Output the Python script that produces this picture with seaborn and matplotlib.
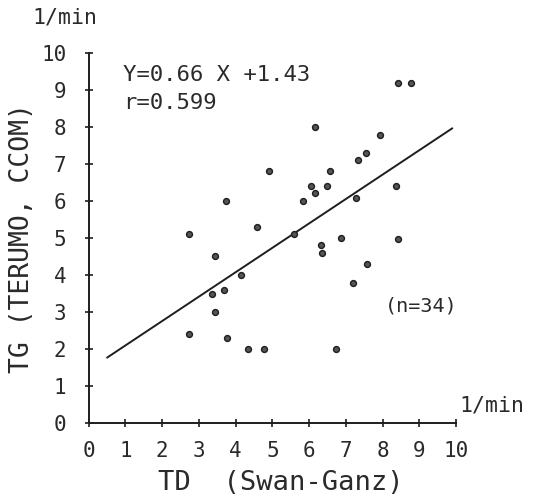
import numpy as np
import pandas as pd
import seaborn as sns
import matplotlib.pyplot as plt

# datos (TD vs TG, n=34)
td = [4.92, 3.74, 4.58, 2.73, 3.44,
      8.41, 8.78, 6.15, 7.94, 7.56, 7.34, 6.57, 6.06, 6.50, 8.38, 6.17, 5.84,
      7.28, 5.60, 6.86, 8.41, 6.33, 6.35,
      7.59, 7.19, 6.74,
      4.15, 3.35, 3.69, 3.43, 2.72, 3.76, 4.33, 4.78]
tg = [6.80, 6.01, 5.30, 5.11, 4.50,
      9.20, 9.20, 8.00, 7.79, 7.30, 7.10, 6.80, 6.40, 6.40, 6.39, 6.20, 6.00,
      6.09, 5.11, 4.99, 4.98, 4.80, 4.59,
      4.28, 3.78, 1.99,
      3.99, 3.49, 3.60, 3.00, 2.40, 2.30, 2.00, 2.00]

pendiente = 0.66
intercepto = 1.43
x_linea = [0.5, 9.9]
ticks = list(range(0, 11))

df = pd.DataFrame({"TD": td, "TG": tg})
df_linea = pd.DataFrame({"x": x_linea})
df_linea["y"] = pendiente * df_linea["x"] + intercepto

sns.set_style("white")
plt.rcParams['font.family'] = ['DejaVu Sans Mono', 'DejaVu Sans']
tinta = "#1e1e1e"
texto = "#2a2a2a"

fig = plt.figure(figsize=(5.39, 4.96), dpi=100)
ax = fig.add_axes([0.1646, 0.1478, 0.6814, 0.7453])

sns.lineplot(data=df_linea, x="x", y="y", ax=ax, color=tinta, linewidth=1.4)
sns.scatterplot(data=df, x="TD", y="TG", ax=ax, s=18, color="#555555",
                edgecolor=tinta, linewidth=1.0, clip_on=False, zorder=3)

ax.set_xlim(0, 10)
ax.set_ylim(0, 10)
ax.set_xticks(ticks)
ax.set_yticks(ticks)
ax.tick_params(bottom=True, left=True, direction="inout", length=6, width=1.2,
               colors=tinta, labelsize=15, labelcolor=texto)
ax.tick_params(axis="x", pad=10)
ax.tick_params(axis="y", pad=13)
for lado in ["top", "right"]:
    ax.spines[lado].set_visible(False)
for lado in ["left", "bottom"]:
    ax.spines[lado].set_color(tinta)
    ax.spines[lado].set_linewidth(1.4)

ax.set_xlabel("TD  (Swan-Ganz)", fontsize=19.5, color=texto)
ax.set_ylabel("TG (TERUMO, CCOM)", fontsize=19, color=texto)
ax.xaxis.set_label_coords(0.523, -0.127)
ax.yaxis.set_label_coords(-0.146, 0.5)

ax.text(0.093, 0.94, "Y=0.66 X +1.43", transform=ax.transAxes, fontsize=16,
        color=texto, va="center", ha="left")
ax.text(0.093, 0.865, "r=0.599", transform=ax.transAxes, fontsize=16,
        color=texto, va="center", ha="left")
ax.text(0.807, 0.315, "(n=34)", transform=ax.transAxes, fontsize=14.5,
        color=texto, va="center", ha="left")
fig.text(0.121, 0.965, "1/min", fontsize=15.5, color=texto, va="center", ha="center")
fig.text(0.913, 0.183, "1/min", fontsize=15.5, color=texto, va="center", ha="center")

fig.savefig("out.png", dpi=100)
